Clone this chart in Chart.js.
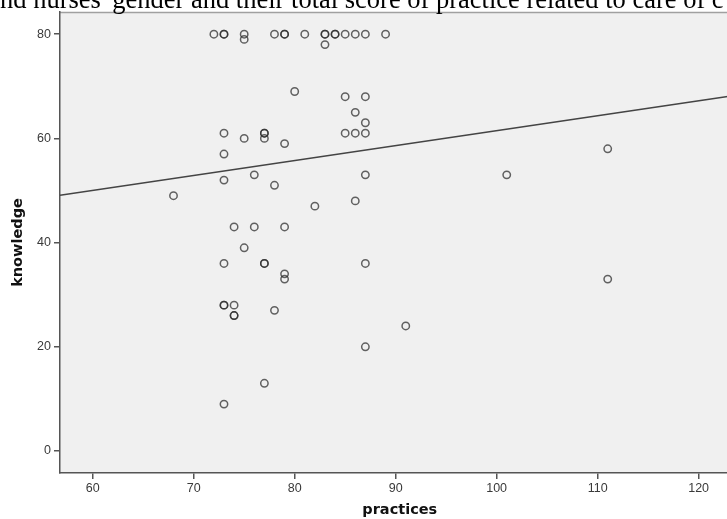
<!DOCTYPE html>
<html>
<head>
<meta charset="utf-8">
<script src="https://cdn.jsdelivr.net/npm/chart.js@4.4.1/dist/chart.umd.min.js"></script>
<style>
  html, body { margin: 0; padding: 0; background: #ffffff; overflow: hidden; width: 727px; height: 519px; }
  #wrap { position: absolute; left: 0; top: 0; width: 745px; height: 519px; }
  #caption { position: absolute; left: 0; top: -14px; font-family: "Liberation Serif", "Times New Roman", serif; font-size: 26.5px; line-height: 26.5px; color: #000; white-space: nowrap; z-index: 2; }
</style>
</head>
<body>
<div id="wrap"><canvas id="c"></canvas></div>
<div id="caption">nd nurses' gender and their total score of practice related to care of c</div>
<script>
// ---- data ----
const practices = [72, 73, 73, 75, 78, 79, 79, 81, 83, 83, 84, 84, 85, 86, 87, 89,
  75, 83, 80, 85, 87, 86, 87, 85, 86, 87, 73, 77, 77, 77, 75, 79, 73, 111,
  76, 87, 101, 73, 78, 68, 86, 82, 74, 76, 79, 75, 73, 77, 77, 87, 79, 79, 111,
  73, 73, 74, 78, 74, 74, 91, 87, 77, 73];
const knowledge = [80, 80, 80, 80, 80, 80, 80, 80, 80, 80, 80, 80, 80, 80, 80, 80,
  79, 78, 69, 68, 68, 65, 63, 61, 61, 61, 61, 61, 61, 60, 60, 59, 57, 58,
  53, 53, 53, 52, 51, 49, 48, 47, 43, 43, 43, 39, 36, 36, 36, 36, 34, 33, 33,
  28, 28, 28, 27, 26, 26, 24, 20, 13, 9];
const fitX = [56.76, 124.05];
const fitY = [49.1, 68.4];
const xTicks = [60, 70, 80, 90, 100, 110, 120];
const yTicks = [0, 20, 40, 60, 80];
const xTitle = 'practices';
const yTitle = 'knowledge';

const points = practices.map((x, i) => ({ x: x, y: knowledge[i] }));
const fitLine = fitX.map((x, i) => ({ x: x, y: fitY[i] }));

const plotBg = {
  id: 'plotBg',
  beforeDraw(chart) {
    const { ctx, chartArea: a } = chart;
    ctx.save();
    ctx.fillStyle = '#f0f0f0';
    ctx.fillRect(a.left, a.top, a.right - a.left, a.bottom - a.top);
    ctx.strokeStyle = '#a0a0a0';
    ctx.lineWidth = 1.5;
    ctx.beginPath();
    ctx.moveTo(a.left, a.top + 0.5);
    ctx.lineTo(a.right, a.top + 0.5);
    ctx.stroke();
    ctx.restore();
  }
};

const tickFont = { family: '"Liberation Sans", Arial, sans-serif', size: 12.5 };
const titleFont = { family: '"DejaVu Sans", Verdana, sans-serif', size: 14.5, weight: 'bold', lineHeight: 1.2 };

new Chart(document.getElementById('c'), {
  type: 'scatter',
  data: {
    datasets: [
      {
        label: 'fit',
        type: 'line',
        data: fitLine,
        borderColor: '#444444',
        borderWidth: 1.5,
        pointRadius: 0,
        fill: false,
        order: 2
      },
      {
        label: 'observed',
        data: points,
        pointStyle: 'circle',
        pointRadius: 3.7,
        pointBorderWidth: 1.5,
        pointBackgroundColor: 'rgba(0,0,0,0)',
        pointBorderColor: 'rgba(40,40,40,0.72)',
        order: 1
      }
    ]
  },
  plugins: [plotBg],
  options: {
    responsive: true,
    maintainAspectRatio: false,
    animation: false,
    layout: { padding: { top: 12, left: 0, right: 0, bottom: 0 } },
    plugins: { legend: { display: false }, tooltip: { enabled: false } },
    scales: {
      x: {
        type: 'linear',
        min: 56.76,
        max: 124.05,
        afterFit(s) { s.height = 46; },
        afterBuildTicks(s) { s.ticks = xTicks.map(v => ({ value: v })); },
        ticks: { font: tickFont, color: '#3a3a3a', padding: 2, includeBounds: false },
        grid: { drawOnChartArea: false, drawTicks: true, tickLength: 6, color: '#555555', lineWidth: 1.5 },
        border: { display: true, color: '#555555', width: 1.5 },
        title: { display: true, text: xTitle, font: titleFont, color: '#111111', padding: { top: 0, bottom: 0 } }
      },
      y: {
        type: 'linear',
        min: -4.22,
        max: 84.26,
        afterFit(s) { s.width = 60; },
        afterBuildTicks(s) { s.ticks = yTicks.map(v => ({ value: v })); },
        ticks: { font: tickFont, color: '#3a3a3a', padding: 3, includeBounds: false },
        grid: { drawOnChartArea: false, drawTicks: true, tickLength: 6, color: '#555555', lineWidth: 1.5 },
        border: { display: true, color: '#555555', width: 1.5 },
        title: { display: true, text: yTitle, font: titleFont, color: '#111111', padding: { top: 10, bottom: 0 } }
      }
    }
  }
});
</script>
</body>
</html>
